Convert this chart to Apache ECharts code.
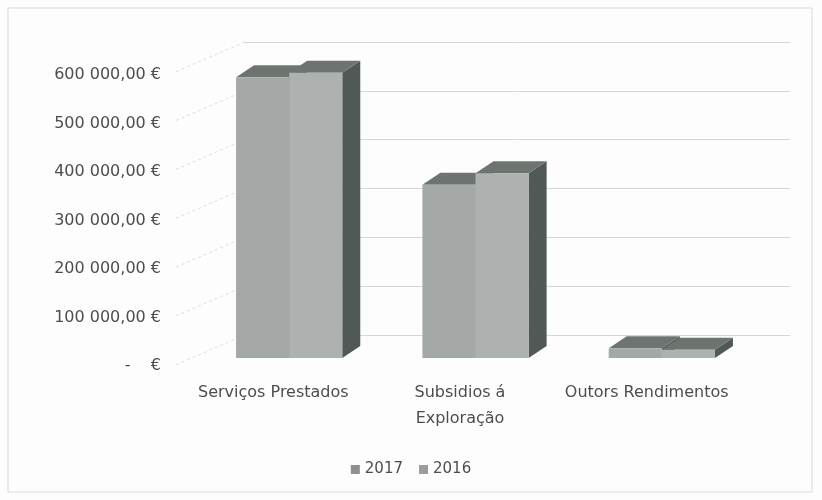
<!DOCTYPE html>
<html>
<head>
<meta charset="utf-8">
<script src="https://cdn.jsdelivr.net/npm/echarts@6/dist/echarts.min.js"></script>
<style>
  html, body { margin: 0; padding: 0; background: #fdfdfd; }
  #chart { width: 822px; height: 500px; }
</style>
</head>
<body>
<div id="chart"></div>
<script>
var categories = ['Serviços Prestados', 'Subsidios á\nExploração', 'Outors Rendimentos']
var values2017 = [579000, 357000, 20000]
var values2016 = [588000, 381000, 17000]
var yTicks = [0, 100000, 200000, 300000, 400000, 500000, 600000]

// depth of the 3d look
var DX = 18
var DY = -12

function euro(v) {
  if (v === 0) return '-    €'
  var s = Math.round(v).toString().replace(/\B(?=(\d{3})+(?!\d))/g, ' ')
  return s + ',00 €'
}

function barItem(s, front) {
  return function(params, api) {
    var band = api.size([1, 0])[0]
    var w = band * 0.285
    var top = api.coord([api.value(0), api.value(1)])
    var base = api.coord([api.value(0), 0])
    var x0 = top[0] - w + s * w
    var y1 = top[1]
    var y0 = base[1]
    return {
      type: 'group',
      children: [
        { type: 'polygon', shape: { points: [[x0 + w, y1], [x0 + w + DX, y1 + DY], [x0 + w + DX, y0 + DY], [x0 + w, y0]] },
          style: { fill: '#505955' } },
        { type: 'polygon', shape: { points: [[x0, y1], [x0 + DX, y1 + DY], [x0 + w + DX, y1 + DY], [x0 + w, y1]] },
          style: { fill: '#6d7470' } },
        { type: 'rect', shape: { x: x0, y: y1, width: w, height: y0 - y1 },
          style: { fill: front } }
      ]
    }
  }
}

var chart = echarts.init(document.getElementById('chart'))

chart.setOption({
  backgroundColor: '#fdfdfd',
  animation: false,
  graphic: [{
    type: 'rect',
    shape: { x: 8, y: 8, width: 804, height: 484 },
    style: { fill: 'none', stroke: '#d9d9d9', lineWidth: 1 }
  }],
  legend: {
    data: ['2017', '2016'],
    top: 457,
    left: 'center',
    icon: 'rect',
    itemWidth: 9,
    itemHeight: 9,
    itemGap: 16,
    textStyle: { fontFamily: 'DejaVu Sans', fontSize: 15, color: '#4d4d4d' }
  },
  grid: [
    // bars
    { left: 196, right: 67, top: 67, bottom: 142 },
    // front edge with labels
    { left: 180, right: 82, top: 75, bottom: 134 },
    // back wall
    { left: 245, right: 32, top: 42, bottom: 165 }
  ],
  xAxis: [
    { gridIndex: 0, type: 'category', data: categories, show: false },
    {
      gridIndex: 1, type: 'category', data: categories,
      axisLine: { show: false }, axisTick: { show: false },
      axisLabel: { interval: 0, margin: 14, fontFamily: 'DejaVu Sans', fontSize: 16, lineHeight: 26, color: '#4d4d4d' }
    },
    { gridIndex: 2, type: 'value', min: 0, max: 1, show: false }
  ],
  yAxis: [
    { gridIndex: 0, type: 'value', min: 0, max: 600000, interval: 100000, show: false },
    {
      gridIndex: 1, type: 'value', min: 0, max: 600000, interval: 100000,
      axisLine: { show: false }, axisTick: { show: false }, splitLine: { show: false },
      axisLabel: { margin: 19, fontFamily: 'DejaVu Sans', fontSize: 16, color: '#4d4d4d', formatter: euro }
    },
    {
      gridIndex: 2, type: 'value', min: 0, max: 600000, interval: 100000,
      axisLine: { show: false }, axisTick: { show: false }, axisLabel: { show: false },
      splitLine: { lineStyle: { color: '#d6d6d6', width: 1 } }
    }
  ],
  series: [
    {
      // diagonal lines from the labels to the back wall
      type: 'custom',
      xAxisIndex: 2,
      yAxisIndex: 2,
      silent: true,
      data: yTicks.map(function(v) { return [0, v] }),
      renderItem: function(params, api) {
        var p = api.coord([0, api.value(1)])
        return {
          type: 'line',
          shape: { x1: p[0], y1: p[1], x2: p[0] - 72, y2: p[1] + 31 },
          style: { stroke: '#dcdcdc', lineWidth: 1, lineDash: [3, 3] }
        }
      }
    },
    {
      name: '2017',
      type: 'custom',
      xAxisIndex: 0,
      yAxisIndex: 0,
      itemStyle: { color: '#8c908e' },
      data: values2017.map(function(v, i) { return [i, v] }),
      renderItem: barItem(0, '#a4a8a6')
    },
    {
      name: '2016',
      type: 'custom',
      xAxisIndex: 0,
      yAxisIndex: 0,
      itemStyle: { color: '#9a9e9c' },
      data: values2016.map(function(v, i) { return [i, v] }),
      renderItem: barItem(1, '#adb1af')
    }
  ]
})
</script>
</body>
</html>
